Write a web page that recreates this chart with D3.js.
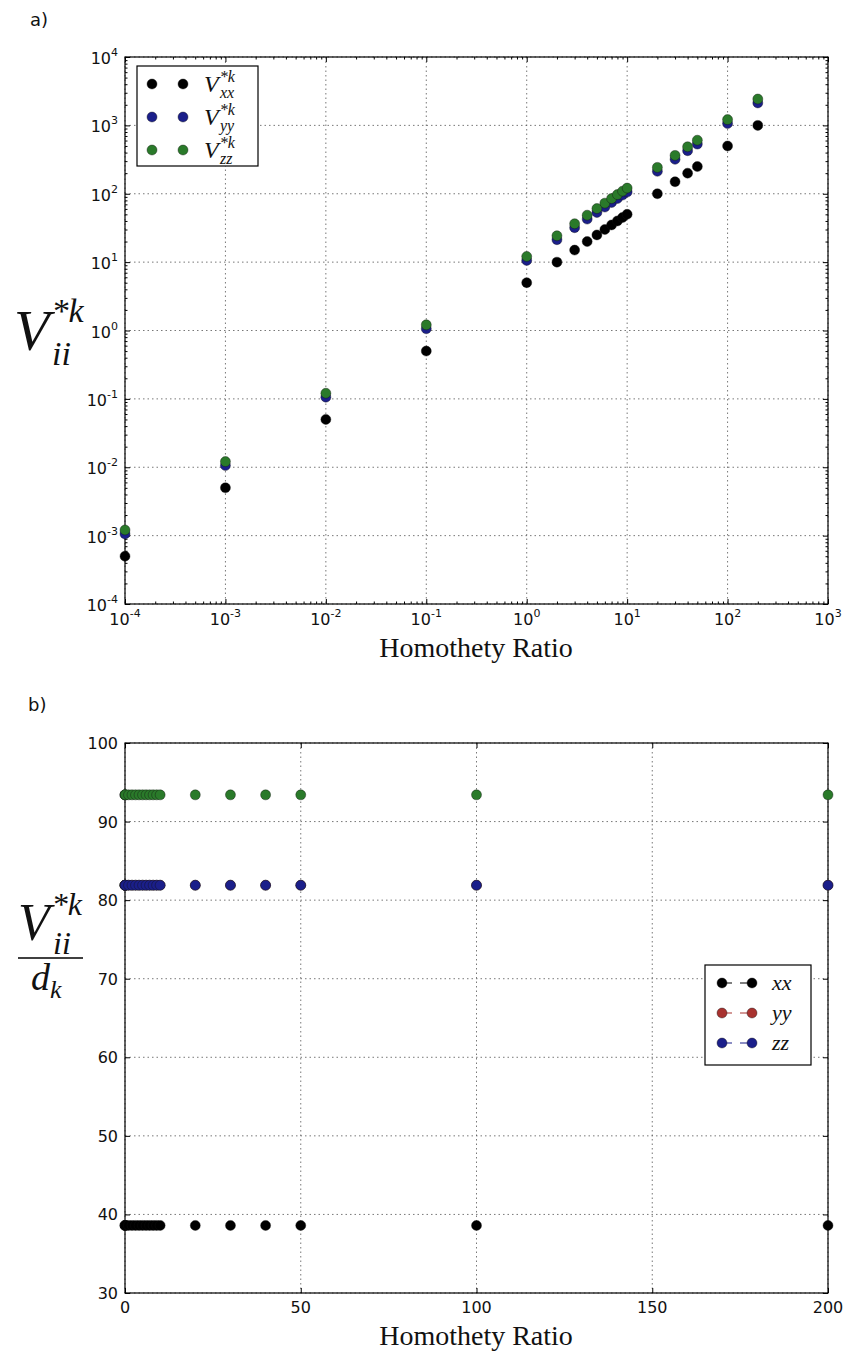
<!DOCTYPE html>
<html>
<head>
<meta charset="utf-8">
<script src="https://cdn.jsdelivr.net/npm/d3@7"></script>
<style>
  body { margin: 0; background: #fff; }
  svg text { fill: #111; }
</style>
</head>
<body>
<div id="chart"></div>
<script>
// values
const ratios = [0.0001, 0.001, 0.01, 0.1, 1, 2, 3, 4, 5, 6, 7, 8, 9, 10, 20, 30, 40, 50, 100, 200]
const vxx = [0.0005, 0.005, 0.05, 0.5, 5, 10, 15, 20, 25, 30, 35, 40, 45, 50, 100, 150, 200, 250, 500, 1000]
const vyy = [0.00106, 0.0106, 0.106, 1.06, 10.6, 21.3, 31.9, 42.6, 53.2, 63.9, 74.5, 85.2, 95.8, 106, 213, 319, 426, 532, 1065, 2130]
const vzz = [0.00121, 0.0121, 0.121, 1.21, 12.1, 24.3, 36.4, 48.6, 60.7, 72.9, 85.0, 97.2, 109, 121, 243, 364, 486, 607, 1214, 2428]

const ratioXX = [38.6, 38.6, 38.6, 38.6, 38.6, 38.6, 38.6, 38.6, 38.6, 38.6, 38.6, 38.6, 38.6, 38.6, 38.6, 38.6, 38.6, 38.6, 38.6, 38.6]
const ratioYY = [81.9, 81.9, 81.9, 81.9, 81.9, 81.9, 81.9, 81.9, 81.9, 81.9, 81.9, 81.9, 81.9, 81.9, 81.9, 81.9, 81.9, 81.9, 81.9, 81.9]
const ratioZZ = [81.9, 81.9, 81.9, 81.9, 81.9, 81.9, 81.9, 81.9, 81.9, 81.9, 81.9, 81.9, 81.9, 81.9, 81.9, 81.9, 81.9, 81.9, 81.9, 81.9]
const ratioExtra = [93.4, 93.4, 93.4, 93.4, 93.4, 93.4, 93.4, 93.4, 93.4, 93.4, 93.4, 93.4, 93.4, 93.4, 93.4, 93.4, 93.4, 93.4, 93.4, 93.4]

const logExpX = [-4, -3, -2, -1, 0, 1, 2, 3]
const logExpY = [-4, -3, -2, -1, 0, 1, 2, 3, 4]
const linTicksX = [0, 50, 100, 150, 200]
const linTicksY = [30, 40, 50, 60, 70, 80, 90, 100]

const BLACK = "#000000", BLUE = "#1b1f8a", GREEN = "#2a7a2a", RED = "#a8322f"
const R = 5

const svg = d3.select("#chart").append("svg")
  .attr("width", 847).attr("height", 1357)

// ---------- helpers ----------
function minorLog(lo, hi) {
  let out = []
  for (let e = lo; e < hi; e++)
    for (let m = 2; m <= 9; m++) out.push(m * Math.pow(10, e))
  return out
}

function frame(g, w, h, x, y, majX, majY, minX, minY) {
  // grid
  g.append("g").selectAll("line").data(majX).join("line")
    .attr("x1", d => x(d)).attr("x2", d => x(d)).attr("y1", 0).attr("y2", h)
    .attr("stroke", "#555").attr("stroke-width", 0.8).attr("stroke-dasharray", "1.5,3")
  g.append("g").selectAll("line").data(majY).join("line")
    .attr("y1", d => y(d)).attr("y2", d => y(d)).attr("x1", 0).attr("x2", w)
    .attr("stroke", "#555").attr("stroke-width", 0.8).attr("stroke-dasharray", "1.5,3")

  const ax = [
    [d3.axisBottom(x), `translate(0,${h})`, majX, minX],
    [d3.axisTop(x), `translate(0,0)`, majX, minX],
    [d3.axisLeft(y), `translate(0,0)`, majY, minY],
    [d3.axisRight(y), `translate(${w},0)`, majY, minY]
  ]
  ax.forEach(([a, tr, maj, mn]) => {
    if (mn) {
      g.append("g").attr("transform", tr)
        .call(a.tickValues(mn).tickSize(-2.5).tickFormat("").tickSizeOuter(0))
        .call(s => s.select(".domain").remove())
        .selectAll("line").attr("stroke", "#000")
    }
    g.append("g").attr("transform", tr)
      .call(a.tickValues(maj).tickSize(-5).tickFormat("").tickSizeOuter(0))
      .call(s => s.select(".domain").remove())
      .selectAll("line").attr("stroke", "#000")
  })
  g.append("rect").attr("width", w).attr("height", h)
    .attr("fill", "none").attr("stroke", "#000").attr("stroke-width", 1.2)
}

function dots(g, xs, ys, x, y, color) {
  g.append("g").selectAll("circle").data(xs.map((d, i) => [d, ys[i]])).join("circle")
    .attr("cx", d => x(d[0])).attr("cy", d => y(d[1])).attr("r", R)
    .attr("fill", color).attr("stroke", "#111").attr("stroke-width", 0.4)
}

function powLabel(sel, exp) {
  sel.append("tspan").text("10")
  sel.append("tspan").attr("dy", -8).attr("font-size", 11).text(exp)
}

// ---------- panel a ----------
const A = { left: 125, top: 57, w: 703, h: 547 }
const gA = svg.append("g").attr("transform", `translate(${A.left},${A.top})`)
const xA = d3.scaleLog().domain([1e-4, 1e3]).range([0, A.w])
const yA = d3.scaleLog().domain([1e-4, 1e4]).range([A.h, 0])

frame(gA, A.w, A.h, xA, yA,
  logExpX.map(e => Math.pow(10, e)), logExpY.map(e => Math.pow(10, e)),
  minorLog(-4, 3), minorLog(-4, 4))

dots(gA, ratios, vxx, xA, yA, BLACK)
dots(gA, ratios, vyy, xA, yA, BLUE)
dots(gA, ratios, vzz, xA, yA, GREEN)

logExpX.forEach(e => {
  const t = gA.append("text").attr("x", xA(Math.pow(10, e))).attr("y", A.h + 21)
    .attr("text-anchor", "middle").attr("font-family", "DejaVu Sans").attr("font-size", 16)
  powLabel(t, e)
})
logExpY.forEach(e => {
  const t = gA.append("text").attr("x", -7).attr("y", yA(Math.pow(10, e)) + 7)
    .attr("text-anchor", "end").attr("font-family", "DejaVu Sans").attr("font-size", 16)
  powLabel(t, e)
})

svg.append("text").attr("x", 476).attr("y", 657).attr("text-anchor", "middle")
  .attr("font-family", "Liberation Serif").attr("font-size", 28).text("Homothety Ratio")
svg.append("text").attr("x", 30).attr("y", 26).attr("font-family", "DejaVu Sans")
  .attr("font-size", 18).text("a)")

// y label a
const yl = svg.append("text").attr("x", 14).attr("y", 350)
  .attr("font-family", "Liberation Serif").attr("font-style", "italic")
yl.append("tspan").attr("font-size", 58).text("V")
yl.append("tspan").attr("font-size", 34).attr("dx", 2).attr("dy", -28).text("*k")
yl.append("tspan").attr("font-size", 34).attr("x", 52).attr("dy", 43).text("ii")

// legend a
const legA = [["xx", BLACK], ["yy", BLUE], ["zz", GREEN]]
const lgA = svg.append("g").attr("transform", "translate(137,66)")
lgA.append("rect").attr("width", 121).attr("height", 100)
  .attr("fill", "#fff").attr("stroke", "#000").attr("stroke-width", 1.2)
legA.forEach(([s, c], i) => {
  const yy = 18 + i * 33
  ;[15, 46].forEach(cx => lgA.append("circle").attr("cx", cx).attr("cy", yy).attr("r", R)
    .attr("fill", c).attr("stroke", "#111").attr("stroke-width", 0.4))
  const t = lgA.append("text").attr("x", 67).attr("y", yy + 8)
    .attr("font-family", "Liberation Serif").attr("font-style", "italic")
  t.append("tspan").attr("font-size", 24).text("V")
  t.append("tspan").attr("font-size", 16).attr("dx", 1).attr("dy", -10).text("*k")
  t.append("tspan").attr("font-size", 16).attr("x", 83).attr("dy", 16).text(s)
})

// ---------- panel b ----------
const B = { left: 125, top: 743, w: 703, h: 550 }
const gB = svg.append("g").attr("transform", `translate(${B.left},${B.top})`)
const xB = d3.scaleLinear().domain([0, 200]).range([0, B.w])
const yB = d3.scaleLinear().domain([30, 100]).range([B.h, 0])

frame(gB, B.w, B.h, xB, yB, linTicksX, linTicksY, null, null)

dots(gB, ratios, ratioXX, xB, yB, BLACK)
dots(gB, ratios, ratioYY, xB, yB, RED)
dots(gB, ratios, ratioZZ, xB, yB, BLUE)
dots(gB, ratios, ratioExtra, xB, yB, GREEN)

linTicksX.forEach(v => gB.append("text").attr("x", xB(v)).attr("y", B.h + 20)
  .attr("text-anchor", "middle").attr("font-family", "DejaVu Sans").attr("font-size", 16).text(v))
linTicksY.forEach(v => gB.append("text").attr("x", -7).attr("y", yB(v) + 6)
  .attr("text-anchor", "end").attr("font-family", "DejaVu Sans").attr("font-size", 16).text(v))

svg.append("text").attr("x", 476).attr("y", 1345).attr("text-anchor", "middle")
  .attr("font-family", "Liberation Serif").attr("font-size", 28).text("Homothety Ratio")
svg.append("text").attr("x", 28).attr("y", 711).attr("font-family", "DejaVu Sans")
  .attr("font-size", 18).text("b)")

// y label b (fraction)
const yn = svg.append("text").attr("x", 18).attr("y", 940)
  .attr("font-family", "Liberation Serif").attr("font-style", "italic")
yn.append("tspan").attr("font-size", 52).text("V")
yn.append("tspan").attr("font-size", 32).attr("dx", 2).attr("dy", -25).text("*k")
yn.append("tspan").attr("font-size", 32).attr("x", 53).attr("dy", 39).text("ii")
svg.append("line").attr("x1", 18).attr("x2", 83).attr("y1", 958).attr("y2", 958)
  .attr("stroke", "#000").attr("stroke-width", 1.5)
const yd = svg.append("text").attr("x", 31).attr("y", 990)
  .attr("font-family", "Liberation Serif").attr("font-style", "italic")
yd.append("tspan").attr("font-size", 38).text("d")
yd.append("tspan").attr("font-size", 26).attr("dy", 8).text("k")

// legend b
const legB = [["xx", BLACK], ["yy", RED], ["zz", BLUE]]
const lgB = svg.append("g").attr("transform", "translate(705,965)")
lgB.append("rect").attr("width", 106).attr("height", 100)
  .attr("fill", "#fff").attr("stroke", "#000").attr("stroke-width", 1.2)
legB.forEach(([s, c], i) => {
  const yy = 18 + i * 30
  lgB.append("line").attr("x1", 17).attr("x2", 47).attr("y1", yy).attr("y2", yy)
    .attr("stroke", c).attr("stroke-width", 1.2).attr("stroke-dasharray", "10,8")
  ;[17, 47].forEach(cx => lgB.append("circle").attr("cx", cx).attr("cy", yy).attr("r", R)
    .attr("fill", c).attr("stroke", "#111").attr("stroke-width", 0.4))
  lgB.append("text").attr("x", 67).attr("y", yy + 7)
    .attr("font-family", "Liberation Serif").attr("font-style", "italic")
    .attr("font-size", 22).text(s)
})
</script>
</body>
</html>
